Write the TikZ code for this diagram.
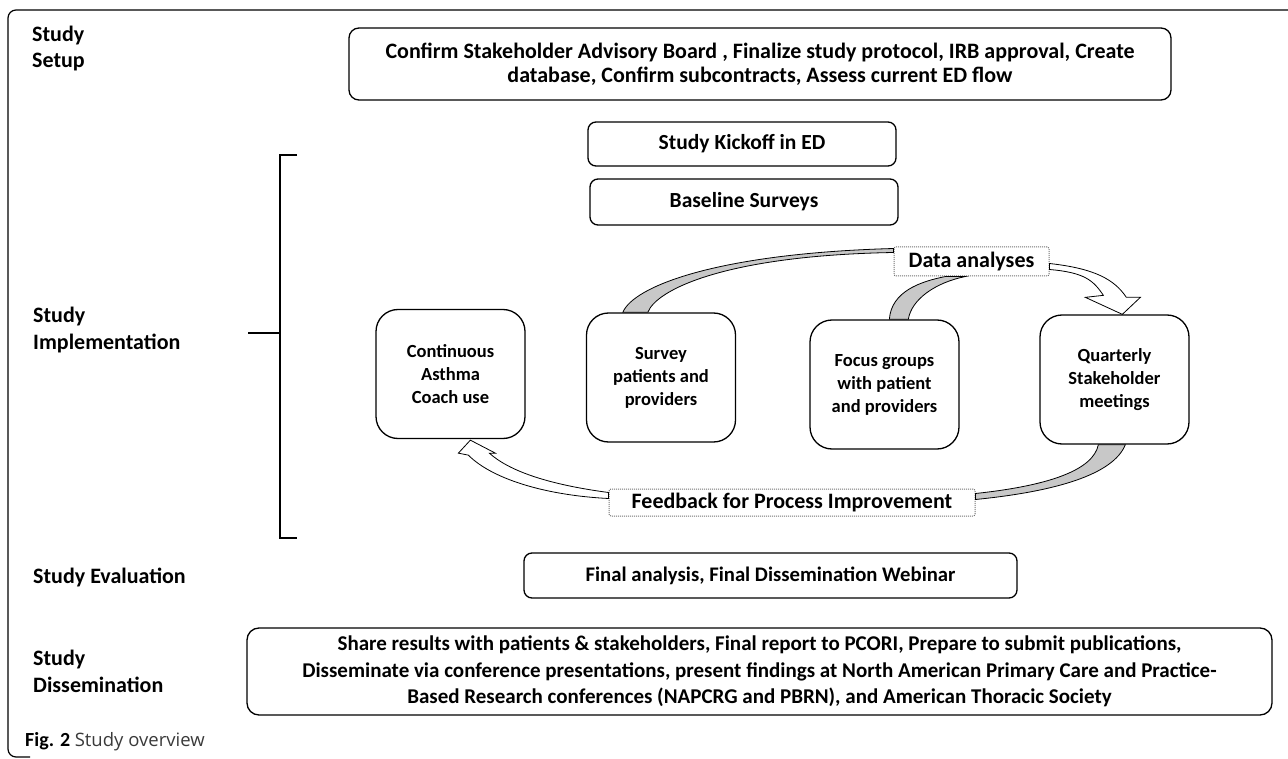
\documentclass[tikz,border=0pt]{standalone}
\usepackage{fontspec}
\setmainfont{Carlito}
\newfontfamily\capfont{Open Sans}
\usetikzlibrary{calc}
\definecolor{band}{HTML}{C8C8C8}
\definecolor{capgray}{HTML}{3A3A3A}
\tikzset{box/.style={draw=black,line width=1.3pt,rounded corners=8pt,align=center,inner sep=0pt,font=\bfseries\fontsize{21.5}{24}\selectfont},cyc/.style={box,rounded corners=22pt,minimum width=149pt,minimum height=129pt,font=\bfseries\fontsize{18.5}{23}\selectfont},tag/.style={draw=black!55,densely dotted,line width=1pt,rounded corners=2pt,inner sep=0pt,fill=white,font=\bfseries\fontsize{22}{24}\selectfont},phase/.style={anchor=west,align=left,inner sep=0pt,font=\bfseries\fontsize{22}{26}\selectfont},bandarrow/.style={fill=band,draw=black,line width=0.8pt},hollow/.style={fill=white,draw=black,line width=0.8pt}}

\begin{document}
\begin{tikzpicture}[x=1pt,y=-1pt]
\useasboundingbox (0,0) rectangle (1288,759);
\draw[line width=1.2pt,rounded corners=8pt] (1290,10) -- (8,10) -- (8,757) -- (30,757);
% phases
\node[phase] (pset) at (32,49) {Study\\Setup};
\node[phase,font=\bfseries\fontsize{22}{27}\selectfont] (pimp) at (33,330.5) {Study\\Implementation};
\node[phase] (peval) at (33,577) {Study Evaluation};
\node[phase,font=\bfseries\fontsize{22}{27}\selectfont] (pdis) at (33,671.5) {Study\\Dissemination};
\draw[line width=1.6pt] (297,155) -- (280,155) -- (280,538) -- (297,538);
\draw[line width=1.6pt] (248,333) -- (280,333);
% boxes
\node[box,minimum width=822pt,minimum height=72pt,rounded corners=10pt,font=\bfseries\fontsize{22}{24}\selectfont] (setup) at (760,64) {Confirm Stakeholder Advisory Board , Finalize study protocol, IRB approval, Create\\database, Confirm subcontracts, Assess current ED flow};
\node[box,minimum width=308pt,minimum height=44pt] (kick) at (742,144) {Study Kickoff in ED};
\node[box,minimum width=308pt,minimum height=46pt] (base) at (744,202) {Baseline Surveys};
\node[cyc] (coach) at (450.5,374) {Continuous\\Asthma\\Coach use};
\node[cyc] (survey) at (661,377.5) {Survey\\patients and\\providers};
\node[cyc] (focus) at (884.5,384.5) {Focus groups\\with patient\\and providers};
\node[cyc] (quart) at (1114.5,379.5) {Quarterly\\Stakeholder\\meetings};
\node[tag,minimum width=155pt,minimum height=29pt] (data) at (971.5,261.5) {Data analyses};
\node[tag,minimum width=366pt,minimum height=27pt] (feed) at (792,502.5) {Feedback for Process Improvement};
\node[box,minimum width=493pt,minimum height=45pt,font=\bfseries\fontsize{20.7}{24}\selectfont] (final) at (770.5,575.5) {Final analysis, Final Dissemination Webinar};
\node[box,minimum width=1025pt,minimum height=87pt,rounded corners=12pt,font=\bfseries\fontsize{21}{26.7}\selectfont] (diss) at (759.5,671.5) {Share results with patients \& stakeholders, Final report to PCORI, Prepare to submit publications,\\Disseminate via conference presentations, present findings at North American Primary Care and Practice-\\Based Research conferences (NAPCRG and PBRN), and American Thoracic Society};
% cycle arrows
\draw[bandarrow] ($(survey.north west)+(37,0)$) .. controls +(10,-25) and +(-180,5) .. ($(data.north west)+(0,2)$) -- ($(data.north west)+(0,6)$) .. controls +(-170,3) and +(8,-22) .. ($(survey.north west)+(62,0)$) -- cycle;
\draw[bandarrow] ($(focus.north west)+(80,0)$) .. controls +(2,-28) and +(-25,5) .. ($(data.south west)+(52,0)$) -- ($(data.south west)+(72,0)$) .. controls +(-30,6) and +(3,-20) .. ($(focus.north west)+(99,0)$) -- cycle;
\draw[hollow] ($(data.east)+(0,2)$) .. controls +(45,5) and +(-12,-18) .. ($(quart.north west)+(87,-17)$) -- ($(quart.north west)+(101,-17)$) -- ($(quart.north west)+(83,0)$) -- ($(quart.north west)+(46,-17)$) -- ($(quart.north west)+(64,-19)$) .. controls +(-10,-15) and +(35,3) .. ($(data.east)+(0,8)$) -- cycle;
\draw[bandarrow] ($(quart.south west)+(86,0)$) .. controls +(-12,30) and +(80,-8) .. ($(feed.north east)+(0,11)$) -- ($(feed.north east)+(0,5)$) .. controls +(75,-8) and +(-5,25) .. ($(quart.south west)+(59,0)$) -- cycle;
\draw[hollow] ($(feed.north west)+(0,4)$) .. controls +(-60,-8) and +(20,18) .. ($(coach.south west)+(114,14)$) -- ($(coach.south west)+(120,14)$) -- ($(coach.south west)+(95,1)$) -- ($(coach.south west)+(83,14)$) -- ($(coach.south west)+(93,16)$) .. controls +(25,25) and +(-60,-3) .. ($(feed.north west)+(0,10)$) -- cycle;
% caption
\node[anchor=west,inner sep=0pt,font=\fontsize{20}{21}\selectfont] (cap) at (25,742) {\textbf{Fig. 2} \textcolor{capgray}{\capfont\fontsize{18.5}{21}\selectfont Study overview}};
\end{tikzpicture}
\end{document}
